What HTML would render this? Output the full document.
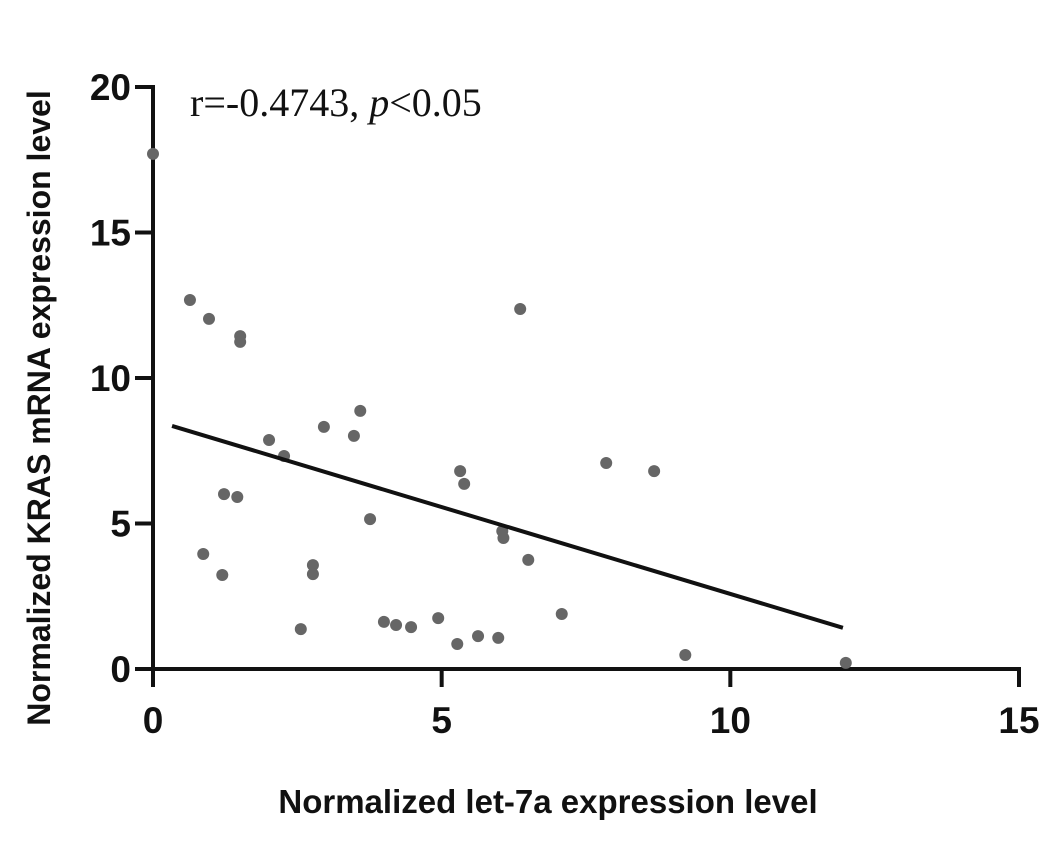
<!DOCTYPE html>
<html><head><meta charset="utf-8"><style>
html,body{margin:0;padding:0;background:#fff;}
svg{display:block;}
</style></head><body>
<svg id="chart" width="1063" height="848" xmlns="http://www.w3.org/2000/svg">
<g id="axes"></g>
<g id="marks"></g>
<text x="190" y="116" font-family="Liberation Serif, serif" font-size="40" fill="#111">r=-0.4743, <tspan font-style="italic">p</tspan>&lt;0.05</text>
<text x="548" y="813" text-anchor="middle" font-family="Liberation Sans, sans-serif" font-weight="bold" font-size="33" fill="#111">Normalized let-7a expression level</text>
<text transform="translate(50,408) rotate(-90)" text-anchor="middle" font-family="Liberation Sans, sans-serif" font-weight="bold" font-size="32" fill="#111">Normalized KRAS mRNA expression level</text>
</svg>
<script>
const xs=[0,0.64,0.97,1.51,1.51,0.87,1.2,1.23,1.46,2.01,2.27,2.77,2.77,2.56,2.96,3.48,3.59,3.76,4.0,4.21,4.47,4.94,5.27,5.32,5.39,5.63,5.98,6.05,6.07,6.36,6.5,7.08,7.85,8.68,9.22,12.0];
const ys=[17.7,12.68,12.03,11.44,11.24,3.95,3.23,6.01,5.91,7.87,7.32,3.57,3.26,1.37,8.32,8.01,8.87,5.15,1.62,1.51,1.44,1.75,0.86,6.8,6.36,1.13,1.07,4.74,4.5,12.37,3.75,1.89,7.08,6.8,0.48,0.21];
const xTicks=[0,5,10,15];
const yTicks=[0,5,10,15,20];
const fitX=[0.33,11.95];
const fitSlope=-0.597, fitIntercept=8.55;
const NS='http://www.w3.org/2000/svg';
const X=v=>153+v*(1019-153)/15;
const Y=v=>669-v*(669-87)/20;
function mk(tag,attrs,parent){const e=document.createElementNS(NS,tag);for(const k in attrs)e.setAttribute(k,attrs[k]);parent.appendChild(e);return e;}
const ax=document.getElementById('axes'), mg=document.getElementById('marks');
let l=mk('line',{x1:X(0),y1:Y(0),x2:X(15)+2,y2:Y(0),stroke:'#111','stroke-width':4},ax);


l=mk('line',{x1:X(0),y1:Y(20)-2,x2:X(0),y2:Y(0)+2,stroke:'#111','stroke-width':4},ax);


xTicks.forEach(t=>{
 const tk=mk('line',{x1:X(t),y1:Y(0),x2:X(t),y2:Y(0)+18,stroke:'#111','stroke-width':4},ax);
 
 
 const tx=mk('text',{x:X(t),y:Y(0)+64,'text-anchor':'middle','font-family':'Liberation Sans, sans-serif','font-weight':'bold','font-size':37,fill:'#111'},ax);
 tx.textContent=t;
 
 
});
yTicks.forEach(t=>{
 const tk=mk('line',{x1:X(0)-18,y1:Y(t),x2:X(0),y2:Y(t),stroke:'#111','stroke-width':4},ax);
 
 
 const tx=mk('text',{x:X(0)-22,y:Y(t)+13,'text-anchor':'end','font-family':'Liberation Sans, sans-serif','font-weight':'bold','font-size':37,fill:'#111'},ax);
 tx.textContent=t;
 
 
});
xs.forEach((x,i)=>{
 const c=mk('circle',{cx:X(x),cy:Y(ys[i]),r:6,fill:'#666'},mg);
 
 
});
const fl=mk('line',{x1:X(fitX[0]),y1:Y(fitIntercept+fitSlope*fitX[0]),x2:X(fitX[1]),y2:Y(fitIntercept+fitSlope*fitX[1]),stroke:'#111','stroke-width':4},mg);


</script>
</body></html>
